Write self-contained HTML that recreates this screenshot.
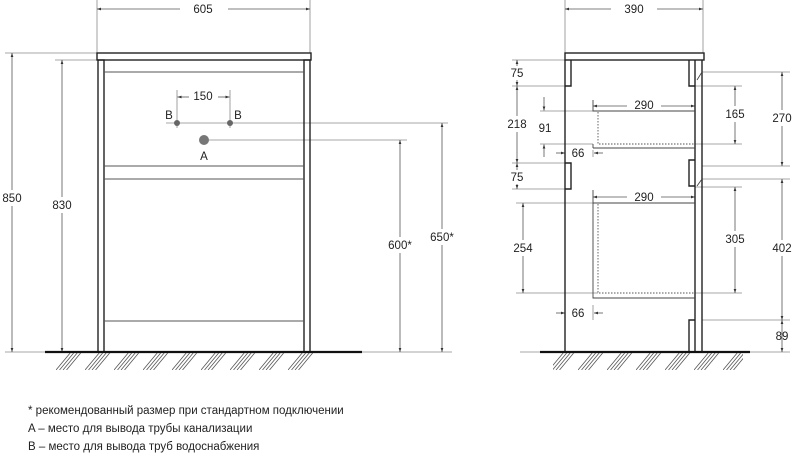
<!DOCTYPE html>
<html><head><meta charset="utf-8"><style>
html,body{margin:0;padding:0;background:#fff;}
svg{display:block;}
text{font-family:"Liberation Sans","DejaVu Sans",sans-serif;font-size:11.5px;fill:#222;}
</style></head><body>
<svg width="800" height="468" viewBox="0 0 800 468" xmlns="http://www.w3.org/2000/svg">
<defs>
<marker id="a" viewBox="0 0 6 6" refX="6" refY="3" markerWidth="5" markerHeight="5" orient="auto-start-reverse"><path d="M0,1 L6,3 L0,5z" fill="#333"/></marker>
<pattern id="h" width="29" height="18" patternUnits="userSpaceOnUse" x="56" y="352">
<path d="M0,18 L15,0 M3.5,18 L18.5,0 M7,18 L22,0 M10.5,18 L25.5,0" stroke="#555" stroke-width="0.8"/>
</pattern>
</defs>
<g stroke="#8a8a8a" stroke-width="0.8" fill="none">
<line x1="97" y1="0" x2="97" y2="53"/><line x1="310" y1="0" x2="310" y2="53"/>
<line x1="5" y1="53" x2="97" y2="53"/><line x1="55" y1="60" x2="97" y2="60"/>
<line x1="177" y1="90" x2="177" y2="128"/><line x1="230" y1="90" x2="230" y2="128"/>
<line x1="166" y1="123" x2="448" y2="123"/><line x1="204" y1="140" x2="407" y2="140"/>
<line x1="5" y1="352" x2="45" y2="352"/><line x1="362" y1="352" x2="452" y2="352"/>
<line x1="565" y1="0" x2="565" y2="53"/><line x1="703" y1="0" x2="703" y2="53"/>
<line x1="512" y1="60" x2="565" y2="60"/><line x1="512" y1="86" x2="571" y2="86"/>
<line x1="512" y1="163" x2="571" y2="163"/><line x1="512" y1="189" x2="571" y2="189"/>
<line x1="540" y1="111" x2="593" y2="111"/><line x1="540" y1="144" x2="593" y2="144"/>
<line x1="516" y1="203" x2="593" y2="203"/><line x1="516" y1="293" x2="598" y2="293"/>
<line x1="593" y1="150" x2="593" y2="157"/><line x1="593" y1="305" x2="593" y2="320"/>
<line x1="702" y1="72" x2="790" y2="72"/><line x1="702" y1="166" x2="790" y2="166"/>
<line x1="702" y1="179" x2="790" y2="179"/><line x1="702" y1="320" x2="790" y2="320"/>
<line x1="695" y1="86" x2="742" y2="86"/><line x1="695" y1="144" x2="742" y2="144"/>
<line x1="695" y1="187" x2="742" y2="187"/><line x1="695" y1="293" x2="742" y2="293"/>
<line x1="750" y1="352" x2="790" y2="352"/><line x1="520" y1="352" x2="540" y2="352"/>
</g>
<g stroke="#555" stroke-width="0.8" fill="none" marker-start="url(#a)" marker-end="url(#a)">
<line x1="97" y1="9" x2="310" y2="9"/>
<line x1="12" y1="53" x2="12" y2="352"/>
<line x1="62" y1="60" x2="62" y2="352"/>
<line x1="400" y1="140" x2="400" y2="352"/>
<line x1="442" y1="123" x2="442" y2="352"/>
<line x1="565" y1="9" x2="703" y2="9"/>
<line x1="517" y1="60" x2="517" y2="86"/>
<line x1="517" y1="86" x2="517" y2="163"/>
<line x1="517" y1="163" x2="517" y2="189"/>
<line x1="523" y1="203" x2="523" y2="293"/>
<line x1="593" y1="106" x2="695" y2="106"/>
<line x1="593" y1="197" x2="695" y2="197"/>
<line x1="735" y1="86" x2="735" y2="144"/>
<line x1="735" y1="187" x2="735" y2="293"/>
<line x1="782" y1="72" x2="782" y2="166"/>
<line x1="782" y1="179" x2="782" y2="320"/>
<line x1="782" y1="320" x2="782" y2="352"/>
</g>
<g stroke="#555" stroke-width="0.8" marker-end="url(#a)">
<line x1="189" y1="97" x2="177.5" y2="97"/><line x1="218" y1="97" x2="229.5" y2="97"/>
<line x1="544" y1="97" x2="544" y2="110.5"/><line x1="544" y1="157" x2="544" y2="144.5"/>
<line x1="556" y1="153" x2="565" y2="153"/><line x1="603" y1="153" x2="594" y2="153"/>
<line x1="556" y1="313" x2="565" y2="313"/><line x1="603" y1="313" x2="594" y2="313"/>
</g>
<g fill="#fff">
<rect x="180" y="2" width="48" height="14"/><rect x="611" y="2" width="46" height="14"/>
<rect x="2" y="190" width="22" height="16"/><rect x="50" y="197" width="24" height="16"/>
<rect x="386" y="237" width="30" height="16"/><rect x="428" y="229" width="30" height="16"/>
<rect x="505" y="66" width="24" height="14"/><rect x="505" y="116" width="24" height="16"/>
<rect x="505" y="170" width="24" height="14"/><rect x="510" y="240" width="26" height="16"/>
<rect x="627" y="99" width="34" height="14"/><rect x="627" y="190" width="34" height="14"/>
<rect x="722" y="106" width="26" height="16"/><rect x="769" y="110" width="28" height="16"/>
<rect x="722" y="231" width="26" height="16"/><rect x="769" y="240" width="28" height="16"/>
</g>
<g stroke="#222" stroke-width="1.4" fill="none">
<rect x="97" y="53" width="214" height="7"/>
<rect x="98" y="60" width="6" height="292"/><rect x="304" y="60" width="6" height="292"/>
</g>
<g stroke="#555" stroke-width="0.9">
<line x1="104" y1="72" x2="304" y2="72"/><line x1="104" y1="166" x2="304" y2="166"/>
<line x1="104" y1="179" x2="304" y2="179"/><line x1="104" y1="321" x2="304" y2="321"/>
</g>
<circle cx="177" cy="123" r="3" fill="#666"/><circle cx="230" cy="123" r="3" fill="#666"/>
<circle cx="204" cy="140" r="5" fill="#777"/>
<line x1="45" y1="352" x2="362" y2="352" stroke="#111" stroke-width="2.2"/>
<rect x="56" y="353" width="260" height="17" fill="url(#h)"/>
<g stroke="#222" stroke-width="1.4" fill="none">
<rect x="565" y="53" width="139" height="7"/>
<line x1="565" y1="60" x2="565" y2="352"/>
<line x1="695" y1="60" x2="695" y2="352"/><line x1="702" y1="60" x2="702" y2="352"/>
<polyline points="565,86 571,86 571,60"/><polyline points="565,163 571,163 571,189 565,189"/>
<polyline points="695,86 689,86 689,60"/><polyline points="695,160 689,160 689,186 695,186"/>
<polyline points="695,320 689,320 689,352"/>
</g>
<g stroke="#444" stroke-width="0.9" fill="none">
<line x1="697" y1="80" x2="702" y2="72"/><line x1="697" y1="186" x2="702" y2="179"/>
<polyline points="593,100 593,111 695,111"/><line x1="593" y1="148" x2="695" y2="148"/><line x1="593" y1="144" x2="593" y2="148"/>
<polyline points="593,190 593,298 695,298"/><line x1="593" y1="203" x2="695" y2="203"/>
</g>
<g stroke="#555" stroke-width="0.9" stroke-dasharray="1.5,1.5" fill="none">
<polyline points="598,112 598,144 695,144"/><polyline points="598,204 598,293 695,293"/>
</g>
<line x1="540" y1="352" x2="750" y2="352" stroke="#111" stroke-width="2.2"/>
<rect x="553" y="353" width="190" height="17" fill="url(#h)"/>
<g text-anchor="middle">
<text x="203" y="13">605</text><text x="12" y="202">850</text><text x="62" y="209">830</text>
<text x="203" y="100">150</text><text x="169" y="119">B</text><text x="238" y="119">B</text><text x="204" y="160">A</text>
<text x="400" y="249">600*</text><text x="442" y="241">650*</text>
<text x="634" y="13">390</text><text x="517" y="77">75</text><text x="517" y="128">218</text>
<text x="545" y="132">91</text><text x="578" y="157">66</text><text x="517" y="181">75</text>
<text x="644" y="109">290</text><text x="644" y="201">290</text><text x="523" y="252">254</text>
<text x="578" y="317">66</text><text x="735" y="118">165</text><text x="782" y="122">270</text>
<text x="735" y="243">305</text><text x="782" y="252">402</text><text x="782" y="340">89</text>
</g>
<g style="font-size:11px">
<text x="28" y="414">* рекомендованный размер при стандартном подключении</text>
<text x="28" y="432">A – место для вывода трубы канализации</text>
<text x="28" y="450">B – место для вывода труб водоснабжения</text>
</g>
</svg>
</body></html>
